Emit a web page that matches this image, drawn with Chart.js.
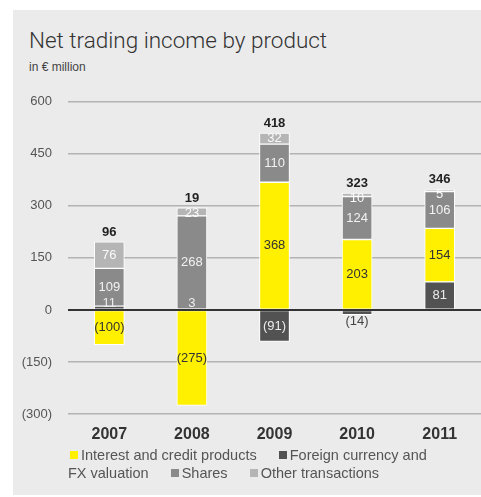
<!DOCTYPE html>
<html>
<head>
<meta charset="utf-8">
<script src="https://cdn.jsdelivr.net/npm/chart.js@4.4.0/dist/chart.umd.min.js"></script>
<style>
    html, body {
        margin: 0;
        padding: 0;
        background: #fff;
        width: 481px;
        height: 497px;
        overflow: hidden;
        font-family: "Liberation Sans", Arial, sans-serif;
    }
    .panel {
        position: absolute;
        left: 13px;
        top: 10px;
        width: 468px;
        height: 485px;
        background: #ebebeb;
    }
    .title {
        position: absolute;
        left: 29px;
        top: 27px;
        font-family: Roboto, "Liberation Sans", sans-serif;
        font-weight: 300;
        font-size: 22.5px;
        color: #333;
        white-space: nowrap;
    }
    .subtitle {
        position: absolute;
        left: 29px;
        top: 60px;
        font-size: 12px;
        color: #444;
    }
    .chart-box {
        position: absolute;
        left: 13px;
        top: 78px;
        width: 468px;
        height: 372px;
    }
    .chart-box canvas {
        display: block;
    }
    .legend {
        position: absolute;
        left: 68px;
        top: 446px;
        width: 380px;
        font-size: 14.5px;
        line-height: 18px;
        color: #555;
    }
    .legend .item {
        margin-right: 16px;
    }
    .legend .swatch {
        display: inline-block;
        width: 8px;
        height: 8px;
        margin: 0 3px 0 2px;
        vertical-align: 1px;
    }
</style>
</head>
<body>
<div class="panel"></div>
<div class="title">Net trading income by product</div>
<div class="subtitle">in € million</div>
<div class="chart-box"><canvas id="tradingChart" width="468" height="372"></canvas></div>
<div class="legend" id="legend"></div>

<script>
// Net trading income, € million
const years = ['2007', '2008', '2009', '2010', '2011'];
const interestCredit = [-100, -275, 368, 203, 154];
const fxValuation = [11, 3, -91, -14, 81];
const shares = [109, 268, 110, 124, 106];
const otherTransactions = [76, 23, 32, 10, 5];
// reported totals (rounded separately from the components)
const totals = [96, 19, 418, 323, 346];
const yTicks = [-300, -150, 0, 150, 300, 450, 600];

const COLORS = {
    interest: '#fff000',
    fx: '#525252',
    shares: '#8a8a8a',
    other: '#b5b5b5'
};

// Legend order differs from stacking order (FX sits at the bottom of the stack)
const legendItems = [
    { label: 'Interest and credit products', color: COLORS.interest },
    { label: 'Foreign currency and FX valuation', color: COLORS.fx },
    { label: 'Shares', color: COLORS.shares },
    { label: 'Other transactions', color: COLORS.other }
];

document.getElementById('legend').innerHTML = legendItems.map(item =>
    `<span class="item"><span class="swatch" style="background:${item.color}"></span>${item.label}</span>`
).join(' ');

const fmt = v => v < 0 ? `(${Math.abs(v)})` : `${v}`;

// Draws segment values, stack totals and the zero line
const barLabels = {
    id: 'barLabels',
    afterDatasetsDraw(chart) {
        const ctx = chart.ctx;
        const yScale = chart.scales.y;
        const zeroY = yScale.getPixelForValue(0);
        const area = chart.chartArea;

        ctx.save();
        ctx.strokeStyle = '#333';
        ctx.lineWidth = 2;
        ctx.beginPath();
        ctx.moveTo(area.left, zeroY);
        ctx.lineTo(area.right, zeroY);
        ctx.stroke();

        ctx.textAlign = 'center';
        ctx.textBaseline = 'middle';
        ctx.font = '13px "Liberation Sans", Arial, sans-serif';

        const stackTop = years.map(() => zeroY);

        chart.data.datasets.forEach((ds, di) => {
            const meta = chart.getDatasetMeta(di);
            meta.data.forEach((bar, i) => {
                const v = ds.data[i];
                const top = Math.min(bar.y, bar.base);
                const bottom = Math.max(bar.y, bar.base);
                const h = bottom - top;
                stackTop[i] = Math.min(stackTop[i], top);

                let y = (top + bottom) / 2;
                let color = ds.labelColor;
                if (h < 12 && v < 0) {
                    // thin negative slice: value goes underneath
                    y = bottom + 7;
                    color = '#444';
                } else if (h < 12 && Math.abs(bar.base - zeroY) < 1) {
                    // thin slice on the zero line: lift above it
                    y = zeroY - 7;
                } else if (h < 12) {
                    // thin slice at the top: keep the text inside the bar
                    y = Math.max(y, top + 5);
                }
                ctx.fillStyle = color;
                ctx.fillText(fmt(v), bar.x, y);
            });
        });

        // totals above each stack
        ctx.font = 'bold 13px "Liberation Sans", Arial, sans-serif';
        ctx.fillStyle = '#222';
        const meta0 = chart.getDatasetMeta(0);
        totals.forEach((total, i) => {
            ctx.fillText(fmt(total), meta0.data[i].x, stackTop[i] - 10);
        });
        ctx.restore();
    }
};

const ctx = document.getElementById('tradingChart');

new Chart(ctx, {
    type: 'bar',
    data: {
        labels: years,
        datasets: [
            {
                label: 'Foreign currency and FX valuation',
                data: fxValuation,
                backgroundColor: COLORS.fx,
                labelColor: '#ececec'
            },
            {
                label: 'Interest and credit products',
                data: interestCredit,
                backgroundColor: COLORS.interest,
                labelColor: '#333'
            },
            {
                label: 'Shares',
                data: shares,
                backgroundColor: COLORS.shares,
                labelColor: '#f2f2f2'
            },
            {
                label: 'Other transactions',
                data: otherTransactions,
                backgroundColor: COLORS.other,
                labelColor: '#fafafa'
            }
        ]
    },
    options: {
        responsive: false,
        animation: false,
        layout: {
            padding: { top: 8, right: 0, bottom: 0, left: 0 }
        },
        datasets: {
            bar: {
                barThickness: 30,
                borderColor: '#fff',
                borderWidth: 1,
                borderSkipped: false
            }
        },
        plugins: {
            legend: { display: false },
            tooltip: { enabled: false }
        },
        scales: {
            x: {
                stacked: true,
                afterFit(scale) {
                    scale.height = 36;
                },
                grid: { display: false },
                border: { display: false },
                ticks: {
                    padding: 3,
                    color: '#333',
                    font: { family: '"Liberation Sans", Arial, sans-serif', size: 16, weight: 'bold' }
                }
            },
            y: {
                stacked: true,
                min: -300,
                max: 600,
                afterFit(scale) {
                    scale.width = 55;
                },
                afterBuildTicks(scale) {
                    scale.ticks = yTicks.map(v => ({ value: v }));
                },
                grid: {
                    color: '#b3b3b3',
                    lineWidth: 1.5,
                    drawTicks: false
                },
                border: { display: false },
                ticks: {
                    padding: 16,
                    color: '#555',
                    font: { family: '"Liberation Sans", Arial, sans-serif', size: 13 },
                    callback: v => fmt(v)
                }
            }
        }
    },
    plugins: [barLabels]
});
</script>
</body>
</html>
